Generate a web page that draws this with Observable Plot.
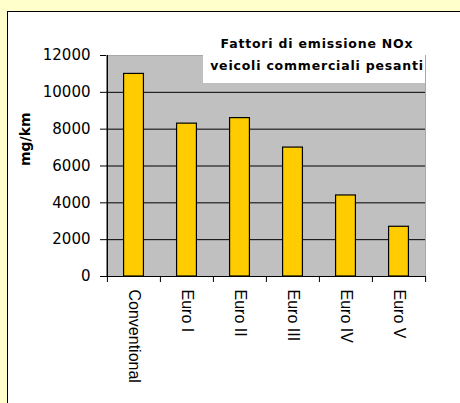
<!DOCTYPE html>
<html>
<head>
<meta charset="utf-8">
<script src="https://cdn.jsdelivr.net/npm/d3@7"></script>
<script src="https://cdn.jsdelivr.net/npm/@observablehq/plot@0.6"></script>
<style>
  html, body { margin: 0; padding: 0; }
  body { width: 460px; height: 403px; background: #ffffcc; position: relative; overflow: hidden; }
  #frame { position: absolute; left: 7px; top: 11px; right: 0; bottom: 0; background: #fff;
           border-left: 1.5px solid #000; border-top: 1.5px solid #000; }
  #chart { position: absolute; left: 0; top: 0; }
  #title { position: absolute; left: 203px; top: 33px; width: 222px; padding-bottom: 6px;
           background: #fff; text-align: center; font-family: "DejaVu Sans", sans-serif;
           font-weight: bold; font-size: 12.5px; line-height: 22px; letter-spacing: 0.8px; color: #000;
           white-space: nowrap; }
  #title span { position: relative; left: 3px; }
</style>
</head>
<body>
<div id="frame"></div>
<div id="chart"></div>
<div id="title"></div>
<script>
const categories = ["Conventional", "Euro I", "Euro II", "Euro III", "Euro IV", "Euro V"];
const values = [11000, 8300, 8600, 7000, 4400, 2700];
const yTicks = [0, 2000, 4000, 6000, 8000, 10000, 12000];
const yLabel = "mg/km";
const titleLines = ["Fattori di emissione NOx", "veicoli commerciali pesanti"];

const data = categories.map((c, i) => ({category: c, value: values[i]}));

const W = 460, H = 403, mL = 106, mR = 35, mT = 55, mB = 127;
const bw = (W - mL - mR) / categories.length;
const barW = 20;
const inset = (bw - barW) / 2;

const plot = Plot.plot({
  width: W,
  height: H,
  marginLeft: mL,
  marginRight: mR,
  marginTop: mT,
  marginBottom: mB,
  style: {background: "transparent", fontFamily: "DejaVu Sans, sans-serif", color: "#000"},
  x: {domain: categories, padding: 0},
  y: {domain: [0, 12000]},
  marks: [
    Plot.frame({fill: "#c0c0c0", stroke: "#a8a8a8"}),
    Plot.gridY(yTicks.filter(v => v > 0 && v < 12000), {stroke: "#000", strokeOpacity: 1, strokeWidth: 1}),
    Plot.barY(data, {x: "category", y: "value", fill: "#ffcc00", stroke: "#000", strokeWidth: 1.2,
                     insetLeft: inset, insetRight: inset}),
    Plot.ruleY([0], {stroke: "#000", strokeWidth: 1.2}),
    Plot.ruleX([categories[0]], {y1: 0, y2: 12000, dx: -bw / 2, stroke: "#000", strokeWidth: 1.2}),
    Plot.axisY(yTicks, {tickSize: 6, tickPadding: 10, fontSize: 15, fontFamily: "DejaVu Sans",
                        tickFormat: d3.format("d"), label: null, stroke: "#000"}),
    Plot.axisX(categories, {tickSize: 6, dx: -bw / 2, tickFormat: () => "", label: null}),
    Plot.axisX([categories[categories.length - 1]], {tickSize: 6, dx: bw / 2, tickFormat: () => "", label: null}),
    Plot.axisX(categories, {tickSize: 0, tickPadding: 13, tickRotate: 90, fontSize: 16,
                            fontFamily: "Liberation Sans, Arial, sans-serif", label: null}),
    Plot.text([yLabel], {frameAnchor: "left", dx: -81, rotate: -90, text: d => d,
                         fontWeight: "bold", fontSize: 14, fontFamily: "DejaVu Sans", fill: "#000"})
  ]
});
document.getElementById("chart").appendChild(plot);
document.getElementById("title").innerHTML = titleLines.map(t => `<span>${t}</span>`).join("<br>");
</script>
</body>
</html>
